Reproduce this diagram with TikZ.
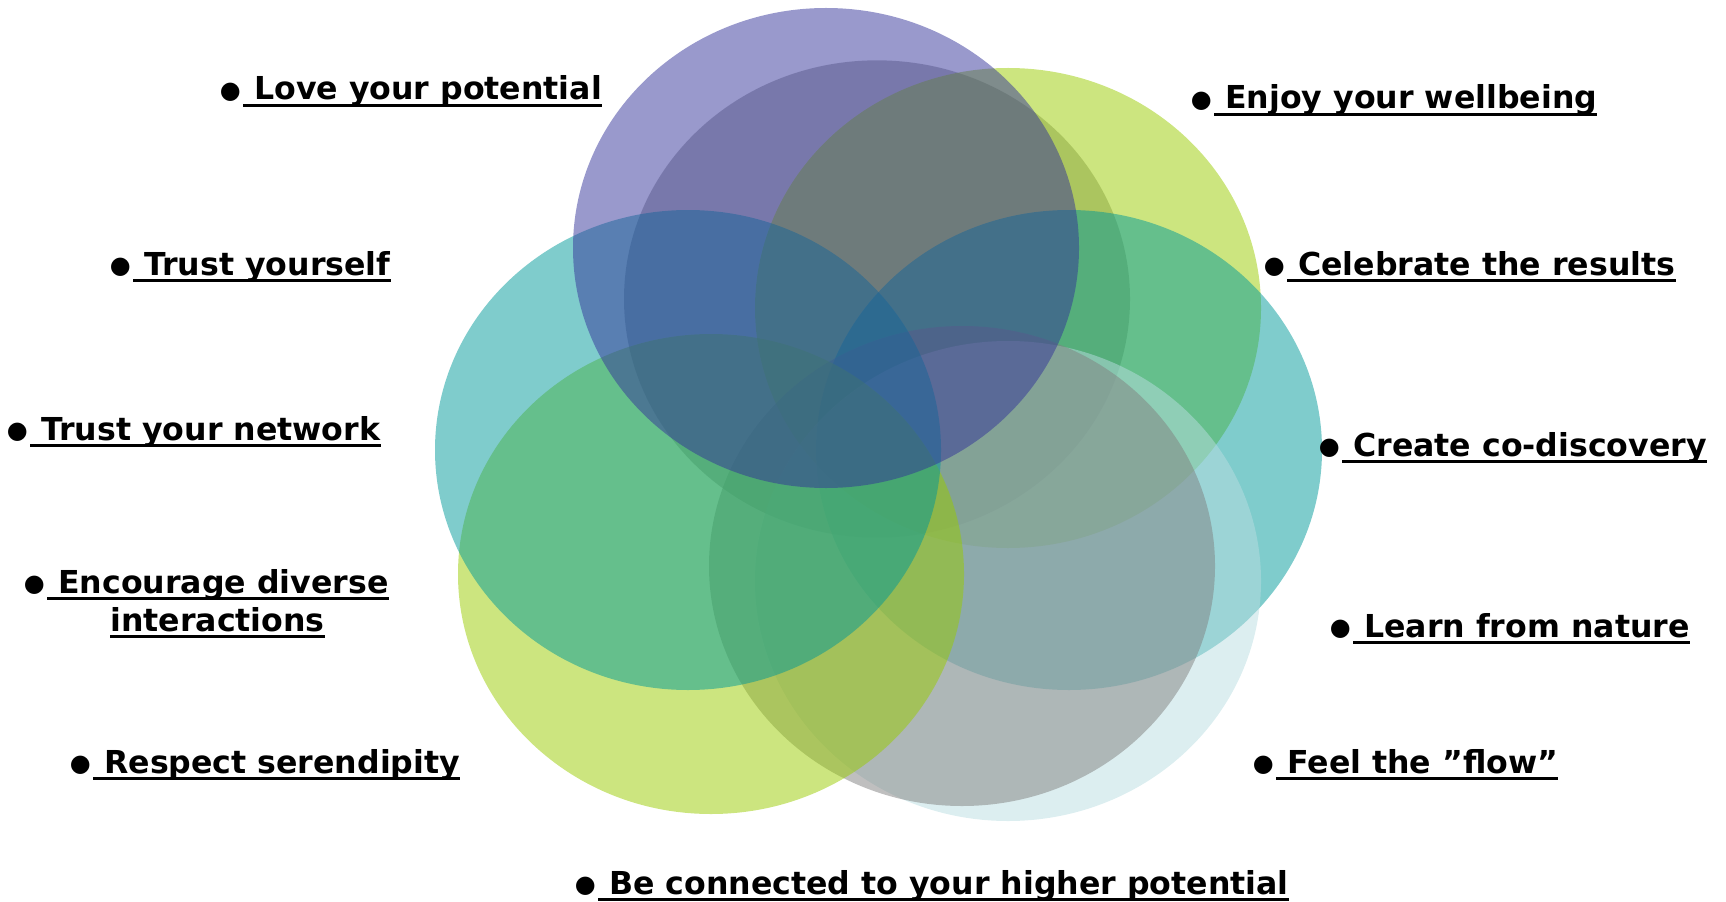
\documentclass[tikz,border=0pt]{standalone}
\usepackage{fontspec}
\setmainfont{DejaVu Sans}
\definecolor{cpurple}{RGB}{51,51,153}
\definecolor{cgray}{RGB}{128,128,128}
\definecolor{clime}{RGB}{153,204,0}
\definecolor{cteal}{RGB}{0,153,153}
\definecolor{cblue}{RGB}{185,221,225}
\tikzset{
  blob/.style={fill=#1, fill opacity=0.5},
  lbl/.style={font=\fontsize{23.7pt}{28pt}\selectfont\bfseries, inner sep=0pt, anchor=base west},
  bul/.style={font=\fontsize{18pt}{20pt}\selectfont, inner sep=0pt, anchor=base east},
  uline/.style={line width=2.3pt}
}
\newcommand\lbitem[4]{%
  \node[lbl] (#1) at (#2,#3) {\ #4};
  \node[bul] (#1b) at ([xshift=-1.5pt,yshift=1pt]#1.base west) {●};
  \draw[uline] ([yshift=-3.8pt]#1.base west) -- ([yshift=-3.8pt]#1.base east);
}
\begin{document}
\begin{tikzpicture}[x=0.75pt,y=-0.75pt]
\useasboundingbox (0,0) rectangle (1726,902);
% ellipses, back to front
\fill[blob=cgray]   (877,299) ellipse [x radius=189.75pt, y radius=179pt];
\fill[blob=clime]   (1008,308) ellipse [x radius=189.75pt, y radius=180pt];
\fill[blob=cteal]   (1069,450) ellipse [x radius=189.75pt, y radius=180pt];
\fill[blob=cblue]   (1008,581) ellipse [x radius=189.75pt, y radius=180pt];
\fill[blob=cgray]   (962,566) ellipse [x radius=189.75pt, y radius=180pt];
\fill[blob=clime]   (711,574) ellipse [x radius=189.75pt, y radius=180pt];
\fill[blob=cteal]   (688,450) ellipse [x radius=189.75pt, y radius=180pt];
\fill[blob=cpurple] (826,248) ellipse [x radius=189.75pt, y radius=180pt];
% labels
\lbitem{love}{243}{100}{Love your potential}
\lbitem{enjoy}{1214}{109}{Enjoy your wellbeing}
\lbitem{trusty}{133}{275}{Trust yourself}
\lbitem{celeb}{1287}{275}{Celebrate the results}
\lbitem{trustn}{30}{440}{Trust your network}
\lbitem{create}{1342}{456}{Create co-discovery}
\lbitem{encour}{47}{593}{Encourage diverse}
\node[lbl] (inter) at (110,631) {interactions};
\draw[uline] ([yshift=-3.8pt]inter.base west) -- ([yshift=-3.8pt]inter.base east);
\lbitem{learn}{1353}{637}{Learn from nature}
\lbitem{respect}{93}{773}{Respect serendipity}
\lbitem{feel}{1276}{773}{Feel the ”flow”}
\lbitem{conn}{598}{894}{Be connected to your higher potential}
\end{tikzpicture}
\end{document}
